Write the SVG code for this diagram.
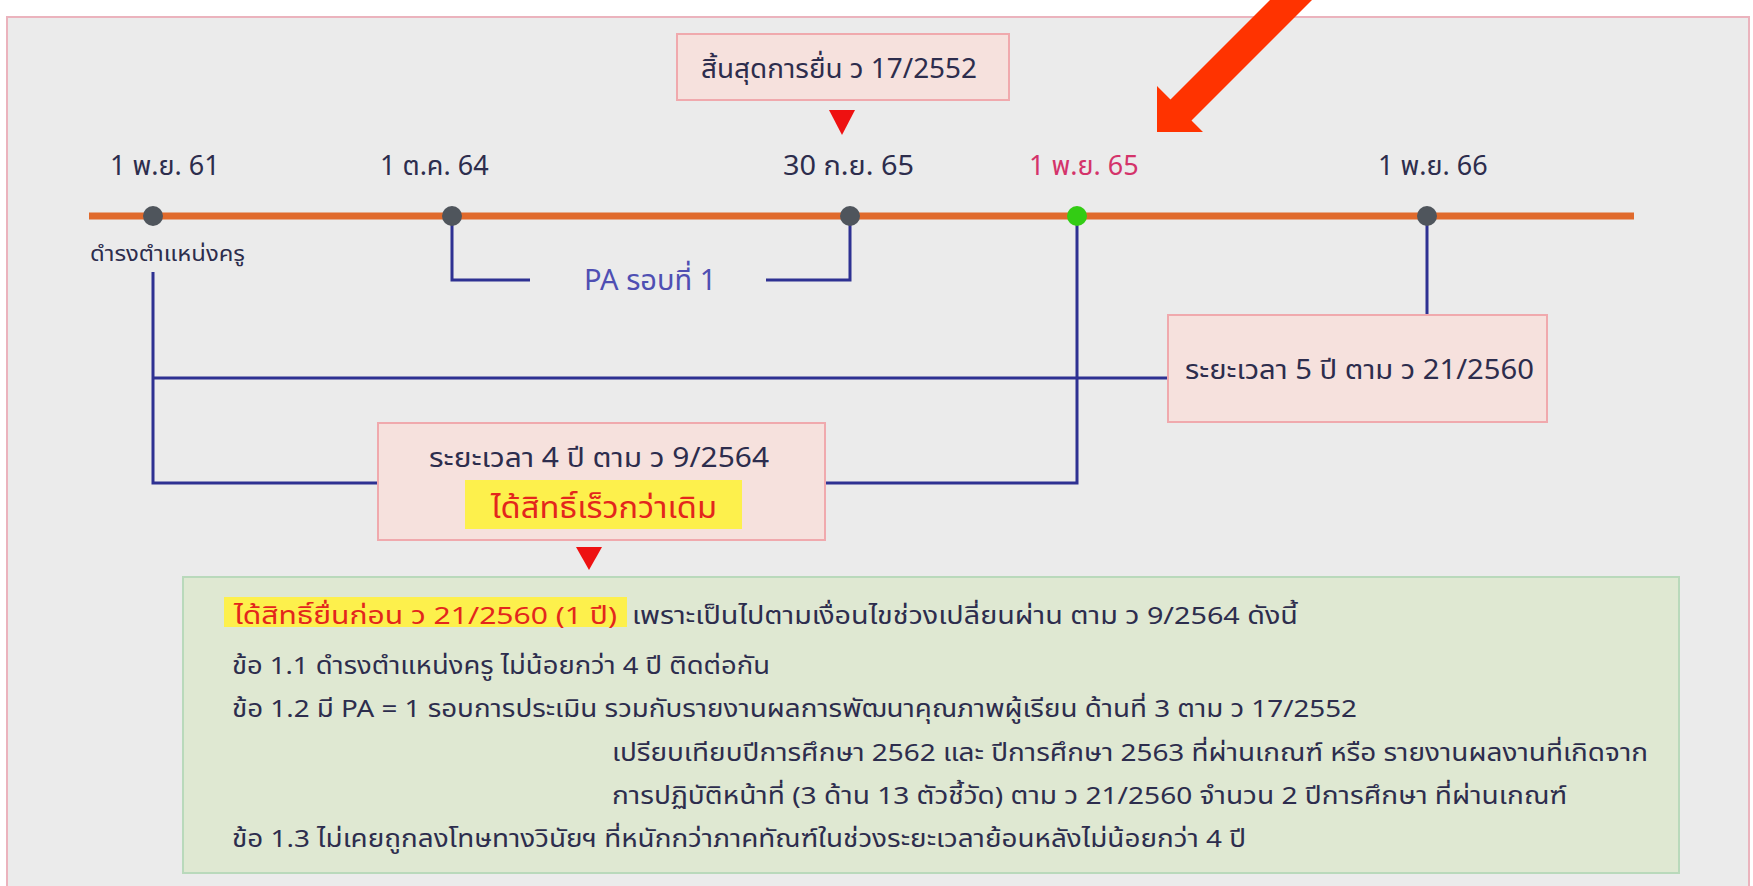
<svg xmlns="http://www.w3.org/2000/svg" width="1753" height="886" viewBox="0 0 1753 886">
<defs>
<style>
text{font-family:"Noto Sans Thai","Noto Sans Thai Looped","Kanit","Prompt","Noto Sans","DejaVu Sans",sans-serif;}
.date{font-size:27px;fill:#2d2d4d;}
.box{fill:#f6e1dd;stroke:#f0a9ad;stroke-width:2;}
.conn{fill:none;stroke:#2e3192;stroke-width:3;}
.dot{fill:#4f555c;}
.body{font-size:24px;fill:#2d2d4d;}
.btxt{font-size:27px;fill:#2d2d4d;}
</style>
</defs>
<rect x="0" y="0" width="1753" height="886" fill="#ffffff"/>
<rect x="7" y="17" width="1742" height="880" fill="#ebebeb" stroke="#ebb3bd" stroke-width="2"/>

<g id="connectors">
<path class="conn" d="M452,216 V280 H530"/>
<path class="conn" d="M766,280 H850 V216"/>
<path class="conn" d="M153,272 V483 H378"/>
<path class="conn" d="M153,378 H1168"/>
<path class="conn" d="M1077,216 V483 H825"/>
<path class="conn" d="M1427,216 V315"/>
<polygon points="829,110 855,110 842,135" fill="#ee1111"/>
<polygon points="576,547 602,547 589,570" fill="#ee1111"/>
</g>

<g id="timeline">
<line x1="89" y1="216" x2="1634" y2="216" stroke="#e06a2c" stroke-width="7"/>
</g>

<g id="node-d1">
<circle class="dot" cx="153" cy="216" r="10"/>
<text class="date" x="110" y="175">1 พ.ย. 61</text>
<text x="90" y="261" font-size="21" fill="#2d2d4d" textLength="155" lengthAdjust="spacingAndGlyphs">ดำรงตำแหน่งครู</text>
</g>
<g id="node-d2">
<circle class="dot" cx="452" cy="216" r="10"/>
<text class="date" x="380" y="175">1 ต.ค. 64</text>
</g>
<g id="node-d3">
<circle class="dot" cx="850" cy="216" r="10"/>
<text class="date" x="783" y="175" textLength="131" lengthAdjust="spacingAndGlyphs">30 ก.ย. 65</text>
</g>
<g id="node-d4">
<circle cx="1077" cy="216" r="10" fill="#33cc14"/>
<text class="date" x="1029" y="175" style="fill:#d4336a">1 พ.ย. 65</text>
</g>
<g id="node-d5">
<circle class="dot" cx="1427" cy="216" r="10"/>
<text class="date" x="1378" y="175">1 พ.ย. 66</text>
</g>

<g id="node-pa">
<text x="584" y="290" font-size="29" fill="#4f4fb3">PA รอบที่ 1</text>
</g>

<g id="node-end">
<rect class="box" x="677" y="34" width="332" height="66"/>
<text class="btxt" x="701" y="78" textLength="276" lengthAdjust="spacingAndGlyphs">สิ้นสุดการยื่น ว 17/2552</text>
</g>

<g id="node-5y">
<rect class="box" x="1168" y="315" width="379" height="107"/>
<text class="btxt" x="1185" y="379" textLength="349" lengthAdjust="spacingAndGlyphs">ระยะเวลา 5 ปี ตาม ว 21/2560</text>
</g>

<g id="node-4y">
<rect class="box" x="378" y="423" width="447" height="117"/>
<text class="btxt" x="429" y="467" textLength="340" lengthAdjust="spacingAndGlyphs">ระยะเวลา 4 ปี ตาม ว 9/2564</text>
<rect x="465" y="480" width="277" height="49" fill="#fdf04c"/>
<text x="491" y="518" font-size="30" fill="#e3261c" textLength="226" lengthAdjust="spacingAndGlyphs">ได้สิทธิ์เร็วกว่าเดิม</text>
</g>

<g id="node-conditions">
<rect x="183" y="577" width="1496" height="296" fill="#dfe8d2" stroke="#b9d9bb" stroke-width="2"/>
<rect x="224" y="597" width="403" height="30" fill="#fdf04c"/>
<text class="body" x="234" y="624" style="fill:#e3261c" textLength="383" lengthAdjust="spacingAndGlyphs">ได้สิทธิ์ยื่นก่อน ว 21/2560 (1 ปี)</text>
<text class="body" x="632" y="624" textLength="666" lengthAdjust="spacingAndGlyphs">เพราะเป็นไปตามเงื่อนไขช่วงเปลี่ยนผ่าน ตาม ว 9/2564 ดังนี้</text>
<text class="body" x="232" y="674" textLength="538" lengthAdjust="spacingAndGlyphs">ข้อ 1.1 ดำรงตำแหน่งครู ไม่น้อยกว่า 4 ปี ติดต่อกัน</text>
<text class="body" x="232" y="717" textLength="1125" lengthAdjust="spacingAndGlyphs">ข้อ 1.2 มี PA = 1 รอบการประเมิน รวมกับรายงานผลการพัฒนาคุณภาพผู้เรียน ด้านที่ 3 ตาม ว 17/2552</text>
<text class="body" x="612" y="761" textLength="1036" lengthAdjust="spacingAndGlyphs">เปรียบเทียบปีการศึกษา 2562 และ ปีการศึกษา 2563 ที่ผ่านเกณฑ์ หรือ รายงานผลงานที่เกิดจาก</text>
<text class="body" x="612" y="804" textLength="955" lengthAdjust="spacingAndGlyphs">การปฏิบัติหน้าที่ (3 ด้าน 13 ตัวชี้วัด) ตาม ว 21/2560 จำนวน 2 ปีการศึกษา ที่ผ่านเกณฑ์</text>
<text class="body" x="232" y="847" textLength="1014" lengthAdjust="spacingAndGlyphs">ข้อ 1.3 ไม่เคยถูกลงโทษทางวินัยฯ ที่หนักกว่าภาคทัณฑ์ในช่วงระยะเวลาย้อนหลังไม่น้อยกว่า 4 ปี</text>
</g>

<g id="arrow">
<polygon points="1275,-5 1317,-5 1191.5,120.5 1203,132 1157,132 1157,86 1170.5,99.5" fill="#ff3300"/>
</g>
</svg>
